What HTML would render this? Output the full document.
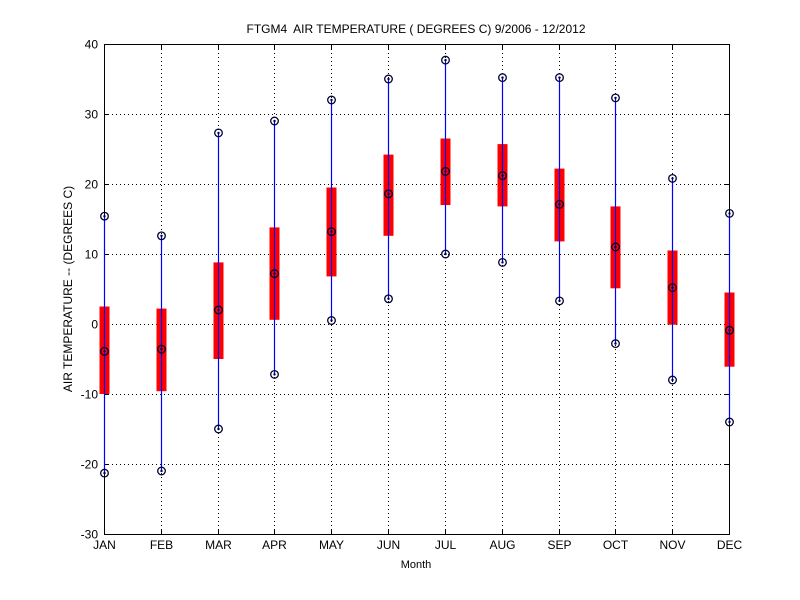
<!DOCTYPE html>
<html><head><meta charset="utf-8"><style>
body{margin:0;background:#fff}
svg{display:block;font-family:"Liberation Sans",sans-serif}
</style></head><body>
<svg id="c" width="800" height="600">
<rect x="0" y="0" width="800" height="600" fill="#fff"/>
<g id="grid"></g>
<rect x="104.5" y="44.5" width="625" height="490" fill="none" stroke="#000" stroke-width="1"/>
<g id="axes"></g>
<g id="marks"></g>
<text x="416" y="33" font-size="12" text-anchor="middle" xml:space="preserve">FTGM4  AIR TEMPERATURE ( DEGREES C) 9/2006 - 12/2012</text>
<text x="416" y="568" font-size="11" text-anchor="middle">Month</text>
<text x="0" y="0" font-size="12" text-anchor="middle" transform="translate(72,289) rotate(-90)">AIR TEMPERATURE -- (DEGREES C)</text>
</svg>
<script>
const months=["JAN","FEB","MAR","APR","MAY","JUN","JUL","AUG","SEP","OCT","NOV","DEC"];
const maxVals=[15.4,12.6,27.3,29.0,32.0,35.0,37.7,35.2,35.2,32.3,20.8,15.8];
const minVals=[-21.3,-21.0,-15.0,-7.2,0.5,3.6,10.0,8.8,3.3,-2.8,-8.0,-14.0];
const q3Vals=[2.5,2.2,8.8,13.8,19.5,24.2,26.5,25.7,22.2,16.8,10.5,4.5];
const q1Vals=[-10.0,-9.6,-5.0,0.6,6.8,12.6,17.0,16.8,11.8,5.1,-0.1,-6.1];
const medVals=[-3.9,-3.6,2.0,7.2,13.2,18.6,21.8,21.2,17.1,11.0,5.2,-0.9];
const yTicks=[-30,-20,-10,0,10,20,30,40];
const NS="http://www.w3.org/2000/svg";
const X0=104,X1=729,Y0=534,Y1=44,yMin=-30,yMax=40;
function xs(i){return X0+i*(X1-X0)/(months.length-1);}
function ys(v){return Y0-(v-yMin)*(Y0-Y1)/(yMax-yMin);}
function mk(t,a,p){const e=document.createElementNS(NS,t);for(const k in a)e.setAttribute(k,a[k]);p.appendChild(e);return e;}
const grid=document.getElementById('grid'),marks=document.getElementById('marks'),axes=document.getElementById('axes');
yTicks.forEach(v=>{
  const y=Math.round(ys(v))+0.5;
  const g=mk('line',{x1:X0,x2:X1,y1:y,y2:y,stroke:'#000','stroke-width':1,'stroke-dasharray':'1,3'},grid);
  
  
  mk('line',{x1:X0,x2:X0+5,y1:y,y2:y,stroke:'#000'},axes);
  mk('line',{x1:X1,x2:X1-5,y1:y,y2:y,stroke:'#000'},axes);
  const t=mk('text',{x:X0-6,y:y+4,'font-size':12,'text-anchor':'end'},axes);
  t.textContent=v;
  
  
});
months.forEach((m,i)=>{
  const x=Math.round(xs(i))+0.5;
  const g=mk('line',{x1:x,x2:x,y1:Y0,y2:Y1,stroke:'#000','stroke-width':1,'stroke-dasharray':'1,3'},grid);
  
  
  mk('line',{x1:x,x2:x,y1:Y0,y2:Y0-5,stroke:'#000'},axes);
  mk('line',{x1:x,x2:x,y1:Y1,y2:Y1+5,stroke:'#000'},axes);
  const t=mk('text',{x:x,y:Y0+15,'font-size':12,'text-anchor':'middle'},axes);
  t.textContent=m;
  
  
  const b=mk('rect',{x:x-5,y:ys(q3Vals[i]),width:10,height:ys(q1Vals[i])-ys(q3Vals[i]),fill:'#ff0000'},marks);
  
  
  const w=mk('line',{x1:x,x2:x,y1:ys(maxVals[i]),y2:ys(minVals[i]),stroke:'#0000ff','stroke-width':1.2},marks);
  
  
  [maxVals[i],medVals[i],minVals[i]].forEach(v=>{
    const c=mk('circle',{cx:x,cy:ys(v),r:3.8,fill:'none',stroke:'#000033','stroke-width':1.3},marks);
    
    
    mk('circle',{cx:x,cy:ys(v),r:1.2,fill:'#000033'},marks);
  });
});
</script>
</body></html>
